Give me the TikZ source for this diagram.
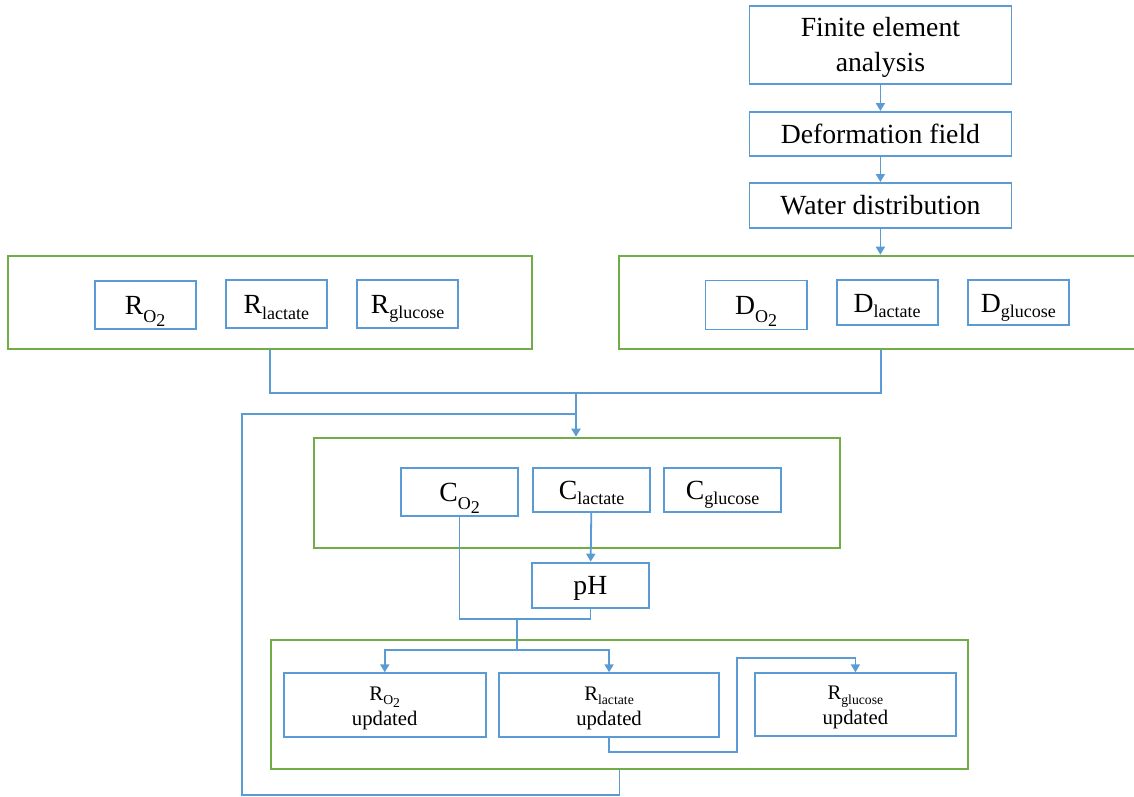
\documentclass[tikz,border=0pt]{standalone}
\usepackage{fontspec}
\setmainfont{Liberation Serif}
\usetikzlibrary{arrows.meta}
\definecolor{lineblue}{HTML}{5B9BD5}
\definecolor{framegreen}{HTML}{70AD47}
\newcommand{\sub}[2][18]{\raisebox{-0.2em}{\fontsize{#1}{#1}\selectfont #2}}
\newcommand{\subOtwo}[1][18]{\raisebox{-0.28em}{\fontsize{#1}{#1}\selectfont O\raisebox{-0.25em}{2}}}

\begin{document}
\begin{tikzpicture}[x=1pt, y=-1pt, >={Triangle[length=8pt,width=9pt]},
  blk/.style={draw=lineblue, line width=1.8pt, anchor=north west, inner sep=0pt},
  lbl/.style={blk, font=\fontsize{27.7}{35}\selectfont, text height=24.7pt, text depth=6pt},
  twoline/.style={blk, align=center, font=\fontsize{27.7}{35}\selectfont,
    text height=60.6pt, text depth=6pt},
  upd/.style={blk, align=center, font=\fontsize{20.7}{25}\selectfont,
    text height=44.8pt, text depth=4.5pt},
  grp/.style={draw=framegreen, line width=1.8pt, anchor=north west, inner sep=0pt},
  link/.style={draw=lineblue, line width=1.8pt}]
  \useasboundingbox (0,0) rectangle (1134,796);

  \node[twoline, minimum width=262pt, minimum height=78pt] (fea) at (748.5,4.7) {Finite element\\analysis};
  \node[lbl, minimum width=262pt, minimum height=44pt] (deform) at (748.5,111) {Deformation field};
  \node[lbl, minimum width=262pt, minimum height=45pt] (water) at (748.5,182) {Water distribution};

  \node[grp, minimum width=523.4pt, minimum height=93.3pt] (grpR) at (7.3,254.7) {};
  \node[grp, minimum width=524pt, minimum height=93.3pt] (grpD) at (617.7,254.7) {};
  \node[lbl, minimum width=101pt, minimum height=48.6pt] (rO2) at (93.7,279.7) {R\subOtwo};
  \node[lbl, minimum width=101pt, minimum height=48pt] (rLac) at (225,279.3) {R\sub{lactate}};
  \node[lbl, minimum width=101.3pt, minimum height=48.3pt] (rGlu) at (356,279) {R\sub{glucose}};
  \node[lbl, minimum width=101.4pt, minimum height=49pt] (dO2) at (704.6,279.5) {D\subOtwo};
  \node[lbl, minimum width=101.2pt, minimum height=45pt] (dLac) at (835.7,279.3) {D\sub{lactate}};
  \node[lbl, minimum width=101.2pt, minimum height=45pt] (dGlu) at (966.8,279.3) {D\sub{glucose}};

  \node[grp, minimum width=525.7pt, minimum height=110pt] (grpC) at (313,436.7) {};
  \node[lbl, minimum width=117.3pt, minimum height=48pt] (cO2) at (400,467) {C\subOtwo};
  \node[lbl, minimum width=117.3pt, minimum height=44pt] (cLac) at (532,467) {C\sub{lactate}};
  \node[lbl, minimum width=116.7pt, minimum height=44pt] (cGlu) at (663.3,467) {C\sub{glucose}};
  \node[lbl, minimum width=116.4pt, minimum height=45pt] (ph) at (531.3,561.7) {pH};

  \node[grp, minimum width=697pt, minimum height=128.4pt] (grpU) at (270,639.3) {};
  \node[upd, minimum width=202.3pt, minimum height=63.7pt] (uO2) at (282.7,672.3) {R\sub[13.7]{O\raisebox{-0.2em}{2}}\\updated};
  \node[upd, minimum width=220.3pt, minimum height=63.7pt] (uLac) at (498,672.3) {R\sub[13.7]{lactate}\\updated};
  \node[upd, minimum width=201.6pt, minimum height=63pt] (uGlu) at (753.7,672.3) {R\sub[13.7]{glucose}\\updated};

  \coordinate (merge) at (576,392.7);
  \coordinate (loopTop) at (576,413.7);
  \coordinate (loopLeft) at (242.3,794.7);
  \coordinate (phJoin) at (517.3,618.7);
  \coordinate (split) at (517.3,650.3);
  \coordinate (hopLow) at (736.7,752);
  \coordinate (hopHigh) at (736.7,658);

  \draw[link,->] (fea) -- (deform);
  \draw[link,->] (deform) -- (water);
  \draw[link,->] (water.south) -- (water.south |- grpD.north);
  \draw[link] (grpR.south) |- (merge) -| (grpD.south);
  \draw[link,->] (merge) -- (merge |- grpC.north);
  \draw[link] (grpU.south) |- (loopLeft) |- (loopTop);
  \draw[link,->] (cLac) -- (ph);
  \draw[link] (cO2.south) |- (phJoin) -| (ph.south);
  \draw[link] (phJoin) -- (split);
  \draw[link,->] (split) -| (uO2.north);
  \draw[link,->] (split) -| (uLac.north);
  \draw[link,->] (uLac.south) |- (hopLow) -- (hopHigh) -| (uGlu.north);
\end{tikzpicture}
\end{document}
